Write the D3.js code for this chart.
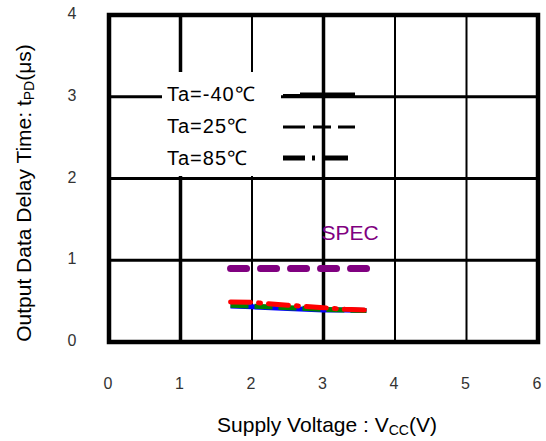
<!DOCTYPE html>
<html>
<head>
<meta charset="utf-8">
<script src="https://cdn.jsdelivr.net/npm/d3@7"></script>
<style>
  body { margin: 0; background: #fff; }
  text { font-family: "Liberation Sans", Arial, sans-serif; }
</style>
</head>
<body>
<div id="chart"></div>
<script>
// DATA
var xTicks = [0, 1, 2, 3, 4, 5, 6];
var yTicks = [0, 1, 2, 3, 4];
var vcc = [1.7, 2.0, 2.5, 3.0, 3.3, 3.6];
var tpdM40 = [0.44, 0.43, 0.41, 0.39, 0.39, 0.385];
var tpd25 = [0.45, 0.44, 0.42, 0.40, 0.39, 0.385];
var tpd85 = [0.49, 0.485, 0.45, 0.42, 0.40, 0.39];
var specVcc = [1.7, 3.65];
var specValue = 0.9;
var legendLabels = ["Ta=-40\u2103", "Ta=25\u2103", "Ta=85\u2103"];

var W = 546, H = 441;
var svg = d3.select("#chart").append("svg")
    .attr("width", W)
    .attr("height", H);

var xScale = d3.scaleLinear().domain([0, 6]).range([109, 538]);
var yScale = d3.scaleLinear().domain([0, 4]).range([342, 15]);

// grid lines
svg.append("g").selectAll("line")
    .data(xTicks.slice(1, -1))
    .enter().append("line")
    .attr("x1", d => xScale(d)).attr("x2", d => xScale(d))
    .attr("y1", yScale(4)).attr("y2", yScale(0))
    .attr("stroke", "#000")
    .attr("stroke-width", d => (d === 1 || d === 3) ? 3.5 : 2);

svg.append("g").selectAll("line")
    .data(yTicks.slice(1, -1))
    .enter().append("line")
    .attr("x1", xScale(0)).attr("x2", xScale(6))
    .attr("y1", d => yScale(d)).attr("y2", d => yScale(d))
    .attr("stroke", "#000")
    .attr("stroke-width", 3);

// legend background hides the grid behind the labels
svg.append("rect")
    .attr("x", 162).attr("y", 72)
    .attr("width", 119).attr("height", 104)
    .attr("fill", "#fff");

// frame
svg.append("rect")
    .attr("x", xScale(0)).attr("y", yScale(4))
    .attr("width", xScale(6) - xScale(0))
    .attr("height", yScale(0) - yScale(4))
    .attr("fill", "none")
    .attr("stroke", "#000")
    .attr("stroke-width", 4.5);

// tick labels
svg.append("g").selectAll("text")
    .data(xTicks)
    .enter().append("text")
    .attr("x", d => xScale(d) - 1)
    .attr("y", 389)
    .attr("text-anchor", "middle")
    .style("font-size", "16px")
    .style("fill", "#333")
    .text(d => d);

svg.append("g").selectAll("text")
    .data(yTicks)
    .enter().append("text")
    .attr("x", 72)
    .attr("y", d => yScale(d) + 4)
    .attr("text-anchor", "middle")
    .style("font-size", "16px")
    .style("fill", "#333")
    .text(d => d);

// axis titles
var xt = svg.append("text")
    .attr("x", 327).attr("y", 432)
    .attr("text-anchor", "middle")
    .style("font-size", "21px");
xt.append("tspan").text("Supply Voltage : V");
xt.append("tspan").attr("dy", 3).style("font-size", "14px").text("CC");
xt.append("tspan").attr("dy", -3).text("(V)");

var yt = svg.append("text")
    .attr("transform", "translate(31, 193)rotate(-90)")
    .attr("text-anchor", "middle")
    .style("font-size", "21px");
yt.append("tspan").text("Output Data Delay Time: t");
yt.append("tspan").attr("dy", 3).style("font-size", "14px").text("PD");
yt.append("tspan").attr("dy", -3).text("(\u03bcs)");

// spec line
svg.append("line")
    .attr("x1", xScale(specVcc[0])).attr("x2", xScale(specVcc[1]))
    .attr("y1", yScale(specValue)).attr("y2", yScale(specValue))
    .attr("stroke", "#800080")
    .attr("stroke-width", 7)
    .attr("stroke-linecap", "round")
    .attr("stroke-dasharray", "16,14");

svg.append("text")
    .attr("x", xScale(3) - 2).attr("y", 240)
    .style("font-size", "21px")
    .style("fill", "#800080")
    .text("SPEC");

// measured curves
var pts = arr => vcc.map((v, i) => [v, arr[i]]);
var line = d3.line().x(d => xScale(d[0])).y(d => yScale(d[1]));

svg.append("path").datum(pts(tpdM40))
    .attr("d", line).attr("fill", "none")
    .attr("stroke", "#0000ff").attr("stroke-width", 5);
svg.append("path").datum(pts(tpd25))
    .attr("d", line).attr("fill", "none")
    .attr("stroke", "#008000").attr("stroke-width", 5)
    .attr("stroke-dasharray", "18,6");
svg.append("path").datum(pts(tpd85))
    .attr("d", line).attr("fill", "none")
    .attr("stroke", "#ff0000").attr("stroke-width", 5)
    .attr("stroke-linecap", "round")
    .attr("stroke-dasharray", "20,8,2,8");

// legend
var lg = svg.append("g");
lg.selectAll("text")
    .data(legendLabels)
    .enter().append("text")
    .attr("x", 167)
    .attr("y", (d, i) => 101 + i * 32)
    .style("font-size", "20px")
    .style("letter-spacing", "1px")
    .text(d => d);

lg.append("line").attr("x1", 283).attr("x2", 300).attr("y1", 95).attr("y2", 95)
    .attr("stroke", "#000").attr("stroke-width", 2);
lg.append("line").attr("x1", 300).attr("x2", 355).attr("y1", 95).attr("y2", 95)
    .attr("stroke", "#000").attr("stroke-width", 5);
lg.append("line").attr("x1", 283).attr("x2", 355).attr("y1", 127).attr("y2", 127)
    .attr("stroke", "#000").attr("stroke-width", 3)
    .attr("stroke-dasharray", "22,8,18,7,18");
lg.append("line").attr("x1", 283).attr("x2", 348).attr("y1", 158).attr("y2", 158)
    .attr("stroke", "#000").attr("stroke-width", 5)
    .attr("stroke-dasharray", "22,7,3,9,26");
</script>
</body>
</html>
